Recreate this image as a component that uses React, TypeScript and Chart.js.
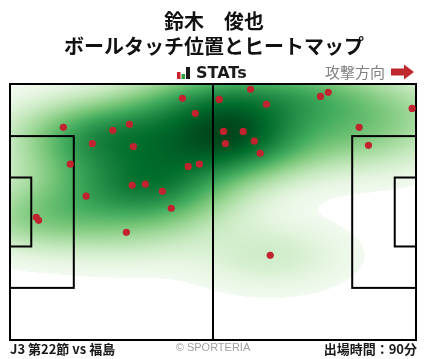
import React, { useEffect, useRef } from 'react';
import { Chart, registerables } from 'chart.js';

Chart.register(...registerables);

// Pitch dimensions (metres)
const PITCH_LENGTH = 105;
const PITCH_WIDTH = 68;

// Ball-touch positions (metres, x from own goal line, y from top touchline)
const touchX = [
  44.6, 47.9, 13.8, 30.9, 26.6, 21.3, 31.9, 15.6, 46.1, 49.0, 31.6, 35.0, 39.4, 19.7, 41.7, 6.8,
  7.4, 30.1, 62.2, 54.1, 66.3, 80.3, 82.3, 104.0, 55.2, 60.3, 55.7, 63.2, 64.7, 90.3, 92.7, 67.3,
];
const touchY = [
  3.8, 7.8, 11.5, 10.7, 12.3, 15.8, 16.6, 21.3, 21.9, 21.3, 26.9, 26.6, 28.5, 29.8, 33.0, 35.4,
  36.2, 39.4, 1.4, 4.1, 5.4, 3.3, 2.2, 6.5, 12.6, 12.6, 15.8, 15.2, 18.4, 11.5, 16.3, 45.5,
];

// Texts
const titleLines = ['鈴木　俊也', 'ボールタッチ位置とヒートマップ'];
const brandLabel = 'STATs';
const directionLabel = '攻撃方向';
const matchLabel = 'J3 第22節 vs 福島';
const creditLabel = '© SPORTERIA';
const minutesLabel = '出場時間：90分';

// Greens colour map stops
const greens = [
  [247, 252, 245],
  [229, 245, 224],
  [199, 233, 192],
  [161, 217, 155],
  [116, 196, 118],
  [65, 171, 93],
  [35, 139, 69],
  [0, 109, 44],
  [0, 68, 27],
];

const HEAT_THRESHOLD = 0.025; // fraction of peak density left unfilled
const BW_ADJUST = 0.92;
const GAMMA = 0.8;

function greenAt(t: number): number[] {
  const v = Math.max(0, Math.min(1, t)) * (greens.length - 1);
  const i = Math.min(greens.length - 2, Math.floor(v));
  const f = v - i;
  const a = greens[i];
  const b = greens[i + 1];
  return [a[0] + (b[0] - a[0]) * f, a[1] + (b[1] - a[1]) * f, a[2] + (b[2] - a[2]) * f];
}

const FONT_JP = '"Noto Sans CJK JP", "Noto Sans", sans-serif';

// Gaussian KDE with per-axis (diagonal) Scott bandwidths
function makeKde() {
  const n = touchX.length;
  let mx = 0, my = 0;
  for (let i = 0; i < n; i++) { mx += touchX[i]; my += touchY[i]; }
  mx /= n; my /= n;
  let sxx = 0, syy = 0;
  for (let i = 0; i < n; i++) {
    const dx = touchX[i] - mx, dy = touchY[i] - my;
    sxx += dx * dx; syy += dy * dy;
  }
  sxx /= n - 1; syy /= n - 1;
  const f2 = Math.pow(n, -1 / 3) * BW_ADJUST * BW_ADJUST;
  const ixx = 1 / (sxx * f2), iyy = 1 / (syy * f2);
  return (vx: number, vy: number) => {
    let s = 0;
    for (let i = 0; i < n; i++) {
      const dx = vx - touchX[i], dy = vy - touchY[i];
      s += Math.exp(-0.5 * (ixx * dx * dx + iyy * dy * dy));
    }
    return s;
  };
}

const heatPlugin = {
  id: 'pitchHeat',
  beforeDatasetsDraw(chart: any) {
    const { ctx, chartArea: a, scales } = chart;
    const xs = scales.x;
    const ys = scales.y;
    const kde = makeKde();

    const w = Math.round(a.right - a.left);
    const h = Math.round(a.bottom - a.top);
    const dens = new Float32Array(w * h);
    let maxD = 0;
    for (let py = 0; py < h; py++) {
      const vy = ys.getValueForPixel(a.top + py + 0.5);
      for (let px = 0; px < w; px++) {
        const s = kde(xs.getValueForPixel(a.left + px + 0.5), vy);
        dens[py * w + px] = s;
        if (s > maxD) maxD = s;
      }
    }
    const off = document.createElement('canvas');
    off.width = w; off.height = h;
    const octx = off.getContext('2d')!;
    const img = octx.createImageData(w, h);
    for (let k = 0; k < w * h; k++) {
      const d = dens[k] / maxD;
      const o = k * 4;
      if (d < HEAT_THRESHOLD) {
        img.data[o] = 255; img.data[o + 1] = 255; img.data[o + 2] = 255;
      } else {
        const t = Math.pow((d - HEAT_THRESHOLD) / (1 - HEAT_THRESHOLD), GAMMA);
        const c = greenAt(t * 0.97 + 0.03);
        img.data[o] = c[0]; img.data[o + 1] = c[1]; img.data[o + 2] = c[2];
      }
      img.data[o + 3] = 255;
    }
    octx.putImageData(img, 0, 0);
    ctx.save();
    ctx.drawImage(off, a.left, a.top);

    // pitch lines
    const X = (v: number) => xs.getPixelForValue(v);
    const Y = (v: number) => ys.getPixelForValue(v);
    ctx.strokeStyle = '#000';
    ctx.lineWidth = 2;
    const rect = (x0: number, y0: number, x1: number, y1: number) => {
      ctx.strokeRect(X(x0), Y(y0), X(x1) - X(x0), Y(y1) - Y(y0));
    };
    rect(0, 0, PITCH_LENGTH, PITCH_WIDTH);
    ctx.beginPath();
    ctx.moveTo(X(PITCH_LENGTH / 2), Y(0));
    ctx.lineTo(X(PITCH_LENGTH / 2), Y(PITCH_WIDTH));
    ctx.stroke();
    const mid = PITCH_WIDTH / 2;
    rect(0, mid - 20.16, 16.5, mid + 20.16);
    rect(0, mid - 9.16, 5.5, mid + 9.16);
    rect(PITCH_LENGTH - 16.5, mid - 20.16, PITCH_LENGTH, mid + 20.16);
    rect(PITCH_LENGTH - 5.5, mid - 9.16, PITCH_LENGTH, mid + 9.16);
    ctx.restore();
  },
  afterDraw(chart: any) {
    const { ctx } = chart;
    ctx.save();
    ctx.textAlign = 'center';
    ctx.textBaseline = 'middle';
    ctx.fillStyle = '#111';
    ctx.font = `bold 20px ${FONT_JP}`;
    ctx.fillText(titleLines[0], 214, 21);
    ctx.fillText(titleLines[1], 214, 46);

    // logo bars
    ctx.fillStyle = '#d0202c';
    ctx.fillRect(177, 72, 3.5, 7);
    ctx.fillStyle = '#2e9d3c';
    ctx.fillRect(181.5, 74, 3.5, 5);
    ctx.fillStyle = '#1a1a1a';
    ctx.fillRect(186, 67, 4, 12);
    ctx.textAlign = 'left';
    ctx.font = 'bold 16px "DejaVu Sans", sans-serif';
    ctx.fillText(brandLabel, 196, 73.5);

    // direction
    ctx.fillStyle = '#808080';
    ctx.font = `15px ${FONT_JP}`;
    ctx.fillText(directionLabel, 325, 72);
    ctx.fillStyle = '#c0272d';
    ctx.beginPath();
    ctx.moveTo(391, 68.5);
    ctx.lineTo(404, 68.5);
    ctx.lineTo(404, 64.5);
    ctx.lineTo(414, 72);
    ctx.lineTo(404, 79.5);
    ctx.lineTo(404, 75.5);
    ctx.lineTo(391, 75.5);
    ctx.closePath();
    ctx.fill();

    // footer
    ctx.fillStyle = '#1a1a1a';
    ctx.font = `bold 13px ${FONT_JP}`;
    ctx.textAlign = 'left';
    ctx.fillText(matchLabel, 10, 349);
    ctx.textAlign = 'right';
    ctx.fillText(minutesLabel, 417, 349);
    ctx.textAlign = 'center';
    ctx.fillStyle = '#a0a0a0';
    ctx.font = '11px "Liberation Sans", sans-serif';
    ctx.fillText(creditLabel, 213, 348);
    ctx.restore();
  },
};

export default function App() {
  const ref = useRef<HTMLCanvasElement | null>(null);
  useEffect(() => {
    document.body.style.margin = '0';
    const canvas = ref.current!;
    const chart = new Chart(canvas, {
      type: 'scatter',
      data: {
        datasets: [
          {
            data: touchX.map((x, i) => ({ x, y: touchY[i] })),
            backgroundColor: '#c1232f',
            borderWidth: 0,
            pointRadius: 3.6,
            pointHoverRadius: 3.6,
          },
        ],
      },
      options: {
        animation: false,
        responsive: false,
        devicePixelRatio: 1,
        layout: { padding: { left: 10, top: 84, right: 12, bottom: 19 } },
        scales: {
          x: { type: 'linear', min: 0, max: PITCH_LENGTH, display: false },
          y: { type: 'linear', min: 0, max: PITCH_WIDTH, reverse: true, display: false },
        },
        plugins: { legend: { display: false }, tooltip: { enabled: false } },
      },
      plugins: [heatPlugin],
    });
    return () => chart.destroy();
  }, []);
  return (
    <div style={{ width: 428, height: 359, background: '#fff' }}>
      <canvas ref={ref} width={428} height={359} style={{ display: 'block' }} />
    </div>
  );
}
